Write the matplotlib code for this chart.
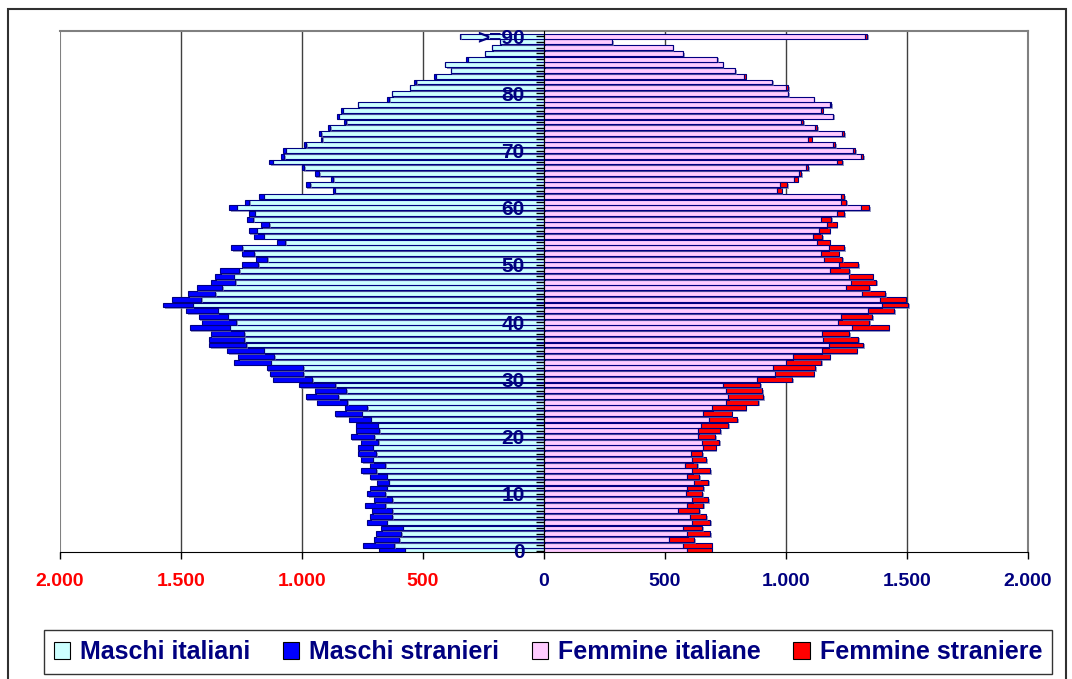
import numpy as np
import matplotlib
matplotlib.use('Agg')
import matplotlib.pyplot as plt
from matplotlib.patches import Patch, Rectangle
import matplotlib.patheffects as pe

plt.rcParams['font.family'] = ['Liberation Sans', 'DejaVu Sans']
plt.rcParams['font.weight'] = 'bold'

# eta' 0..89 e >=90
ages = list(range(91))
age_labels = [str(a) if a % 10 == 0 else '' for a in ages]
age_labels[90] = '>=90'

maschi_ita = [576, 618, 598, 589, 584, 650, 628, 628, 655, 628,
              655, 650, 642, 650, 693, 655, 708, 693, 708, 686,
              702, 680, 687, 716, 753, 730, 812, 850, 818, 863,
              958, 996, 996, 1129, 1114, 1158, 1232, 1239, 1239, 1299,
              1271, 1307, 1349, 1452, 1416, 1358, 1329, 1275, 1283, 1261,
              1180, 1143, 1197, 1248, 1069, 1158, 1187, 1136, 1202, 1195,
              1270, 1217, 1158, 865, 965, 872, 929, 990, 1121, 1074,
              1067, 982, 916, 920, 883, 817, 848, 832, 768, 640,
              628, 555, 529, 448, 386, 409, 315, 245, 215, 180,
              346]
maschi_str = [106, 130, 104, 106, 89, 81, 89, 82, 84, 74,
              76, 70, 47, 70, 62, 64, 47, 75, 60, 70,
              97, 97, 90, 91, 112, 91, 127, 135, 128, 149,
              160, 137, 150, 150, 150, 152, 152, 145, 138, 165,
              142, 120, 131, 123, 122, 113, 106, 102, 77, 77,
              70, 47, 52, 46, 33, 40, 33, 34, 25, 25,
              31, 20, 18, 8, 20, 8, 18, 8, 15, 11,
              11, 9, 7, 9, 8, 8, 8, 8, 0, 9,
              0, 0, 9, 8, 0, 0, 9, 0, 0, 0,
              2]
femmine_ita = [591, 576, 515, 591, 576, 613, 605, 554, 591, 613,
               585, 592, 621, 591, 613, 584, 613, 606, 657, 651,
               636, 636, 650, 680, 658, 694, 753, 761, 753, 741,
               881, 953, 946, 998, 1027, 1147, 1176, 1151, 1147, 1271,
               1213, 1227, 1337, 1396, 1388, 1315, 1248, 1270, 1261, 1183,
               1219, 1158, 1146, 1176, 1130, 1110, 1137, 1168, 1144, 1212,
               1308, 1226, 1226, 961, 974, 1034, 1055, 1081, 1209, 1311,
               1275, 1194, 1092, 1231, 1121, 1063, 1195, 1144, 1180, 1115,
               1009, 1002, 943, 826, 790, 738, 716, 576, 531, 281,
               1327]
femmine_str = [102, 117, 106, 96, 78, 74, 66, 88, 67, 66,
               69, 65, 58, 51, 74, 49, 58, 48, 52, 73,
               72, 92, 111, 119, 117, 139, 132, 146, 148, 151,
               145, 161, 175, 146, 153, 145, 143, 148, 114, 153,
               130, 129, 109, 108, 107, 95, 96, 102, 97, 78,
               80, 74, 71, 63, 51, 40, 44, 41, 44, 27,
               36, 22, 13, 21, 31, 14, 9, 11, 23, 8,
               10, 9, 14, 8, 8, 8, 0, 7, 8, 0,
               0, 7, 0, 8, 0, 0, 0, 0, 0, 0,
               9]

x_ticks = [-2000, -1500, -1000, -500, 0, 500, 1000, 1500, 2000]
legend_labels = ['Maschi italiani', 'Maschi stranieri', 'Femmine italiane', 'Femmine straniere']

navy = '#000080'
c_mi, c_ms, c_fi, c_fs = '#CCFFFF', '#0000FF', '#FFCCFF', '#FF0000'

fig = plt.figure(figsize=(10.72, 6.79), dpi=100)
ax = fig.add_axes([60/1072, (679-552.3)/679, 968/1072, (552.3-30.5)/679])
ax.set_axisbelow(False)

mi = np.array(maschi_ita); ms = np.array(maschi_str)
fi = np.array(femmine_ita); fs = np.array(femmine_str)

shadow = [pe.SimplePatchShadow(offset=(1.2, -1.2), shadow_rgbFace='#7070a8', alpha=0.7), pe.Normal()]
kw = dict(height=0.86, edgecolor=navy, linewidth=0.8, zorder=2)
for bars in [ax.barh(ages, -mi, color=c_mi, **kw),
             ax.barh(ages, -ms, left=-mi, color=c_ms, **kw),
             ax.barh(ages, fi, color=c_fi, **kw),
             ax.barh(ages, fs, left=fi, color=c_fs, **kw)]:
    for b in bars:
        b.set_path_effects(shadow)

ax.set_xlim(-2000, 2000)
ax.set_ylim(-0.25, 91.0)

for v in [-1500, -1000, -500, 500, 1000, 1500]:
    ax.axvline(v, color='#404040', lw=1, zorder=1)
ax.axvline(-2000, color='#808080', lw=1.5, zorder=1)
ax.spines['top'].set_color('#808080')
ax.spines['right'].set_color('#808080')
ax.spines['top'].set_linewidth(1.5)
ax.spines['right'].set_linewidth(1.5)
ax.spines['left'].set_position(('data', 0))
ax.spines['left'].set_zorder(5)
ax.spines['bottom'].set_color('black')

ax.set_yticks(ages)
ax.set_yticklabels(age_labels)
ax.tick_params(axis='y', direction='out', length=6, width=1, pad=8,
               labelsize=15, labelcolor=navy)

ax.set_xticks(x_ticks)
ax.set_xticklabels([f"{abs(v):,}".replace(',', '.') for v in x_ticks])
ax.tick_params(axis='x', direction='out', length=5, width=1, pad=10, labelsize=14)
for v, lbl in zip(x_ticks, ax.get_xticklabels()):
    lbl.set_color('#FF0000' if v < 0 else navy)

handles = [Patch(facecolor=c, edgecolor='black', linewidth=0.8) for c in [c_mi, c_ms, c_fi, c_fs]]
leg = fig.legend(handles, legend_labels, loc='center', bbox_to_anchor=(548/1072, 1-652/679),
                 ncol=4, fontsize=18, frameon=True, fancybox=False, edgecolor='black',
                 handlelength=0.65, handleheight=0.65, handletextpad=0.4,
                 columnspacing=1.3, borderpad=0.4)
leg.get_frame().set_linewidth(1)
for t in leg.get_texts():
    t.set_color(navy)

fig.patches.append(Rectangle((8/1072, -0.05), 1058/1072, 1-9/679+0.05, transform=fig.transFigure,
                             fill=False, edgecolor='#303030', linewidth=1.5))

fig.savefig('out.png', dpi=100)
